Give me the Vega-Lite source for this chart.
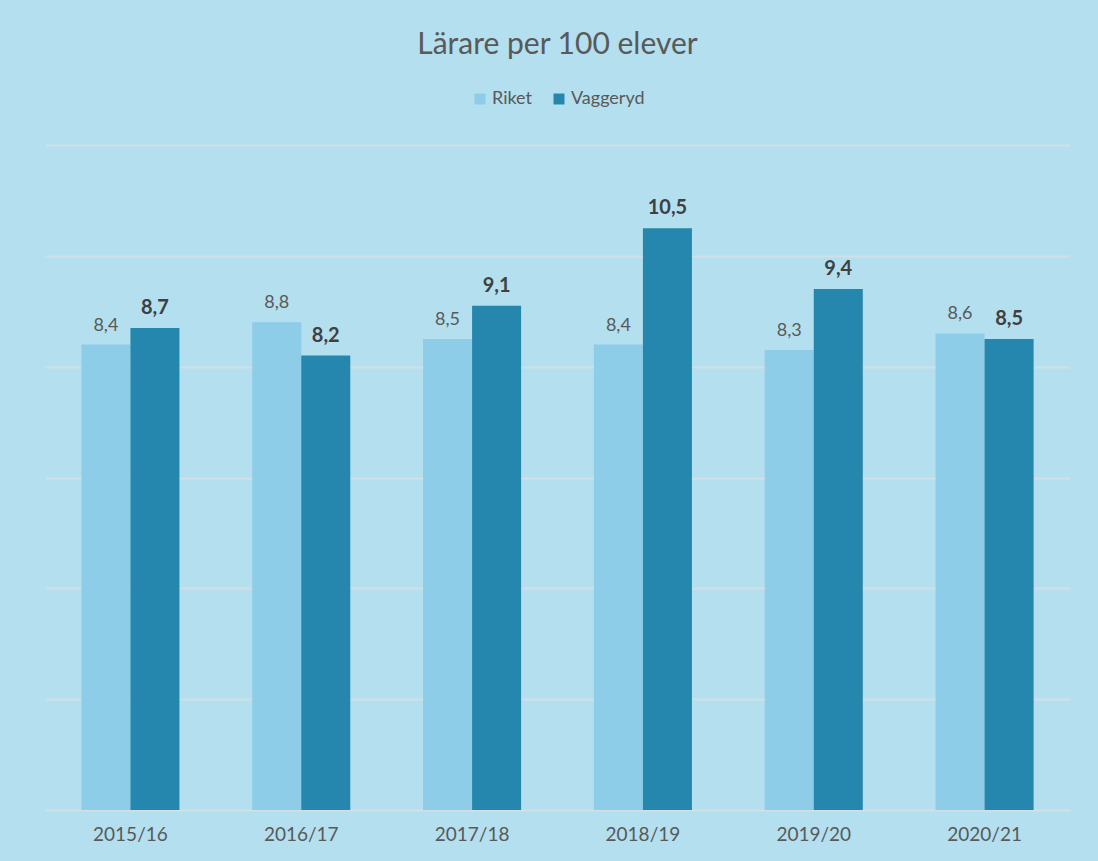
{
  "$schema": "https://vega.github.io/schema/vega-lite/v6.json",
  "width": 1025,
  "height": 665,
  "autosize": {"type": "none"},
  "padding": {"left": 45, "top": 145, "right": 28, "bottom": 51},
  "background": "#b3dfef",
  "title": {
    "text": "Lärare per 100 elever",
    "font": "Lato",
    "fontSize": 30,
    "fontWeight": "normal",
    "color": "#595959",
    "anchor": "middle",
    "offset": 30
  },
  "config": {
    "locale": {"number": {"decimal": ",", "thousands": " ", "grouping": [3], "currency": ["", " kr"]}},
    "view": {"stroke": null},
    "font": "Lato"
  },
  "data": {
    "values": [
      {"year": "2015/16", "serie": "Riket", "value": 8.4},
      {"year": "2015/16", "serie": "Vaggeryd", "value": 8.7},
      {"year": "2016/17", "serie": "Riket", "value": 8.8},
      {"year": "2016/17", "serie": "Vaggeryd", "value": 8.2},
      {"year": "2017/18", "serie": "Riket", "value": 8.5},
      {"year": "2017/18", "serie": "Vaggeryd", "value": 9.1},
      {"year": "2018/19", "serie": "Riket", "value": 8.4},
      {"year": "2018/19", "serie": "Vaggeryd", "value": 10.5},
      {"year": "2019/20", "serie": "Riket", "value": 8.3},
      {"year": "2019/20", "serie": "Vaggeryd", "value": 9.4},
      {"year": "2020/21", "serie": "Riket", "value": 8.6},
      {"year": "2020/21", "serie": "Vaggeryd", "value": 8.5}
    ]
  },
  "encoding": {
    "x": {
      "field": "year", "type": "nominal", "title": null,
      "scale": {"paddingInner": 0.426, "paddingOuter": 0.213},
      "axis": {"labelAngle": 0, "labelFontSize": 19, "labelColor": "#595959", "labelPadding": 15, "ticks": false, "domain": false, "labelFont": "Lato"}
    },
    "xOffset": {"field": "serie", "type": "nominal", "scale": {"paddingInner": 0, "paddingOuter": 0}},
    "y": {
      "field": "value", "type": "quantitative", "title": null,
      "scale": {"domain": [0, 12], "nice": false},
      "axis": {"values": [0, 2, 4, 6, 8, 10, 12], "labels": false, "ticks": false, "domain": false, "grid": true, "gridColor": "#d3dfe6", "gridWidth": 2}
    }
  },
  "layer": [
    {
      "mark": {"type": "bar"},
      "encoding": {
        "color": {
          "field": "serie", "type": "nominal",
          "scale": {"domain": ["Riket", "Vaggeryd"], "range": ["#8ecde7", "#2587ad"]},
          "legend": {
            "title": null, "orient": "none", "direction": "horizontal",
            "legendX": 426, "legendY": -55,
            "symbolType": "square", "symbolSize": 120, "symbolStrokeWidth": 0,
            "labelFontSize": 18, "labelColor": "#595959", "labelFont": "Lato",
            "columnPadding": 18, "labelOffset": 3
          }
        }
      }
    },
    {
      "transform": [{"filter": "datum.serie == 'Riket'"}],
      "mark": {"type": "text", "baseline": "bottom", "dy": -10, "fontSize": 18, "color": "#595959", "font": "Lato"},
      "encoding": {"text": {"field": "value", "type": "quantitative", "format": ".1f"}}
    },
    {
      "transform": [{"filter": "datum.serie == 'Vaggeryd'"}],
      "mark": {"type": "text", "baseline": "bottom", "dy": -10, "fontSize": 20, "fontWeight": "bold", "color": "#404040", "font": "Lato"},
      "encoding": {"text": {"field": "value", "type": "quantitative", "format": ".1f"}}
    }
  ]
}
